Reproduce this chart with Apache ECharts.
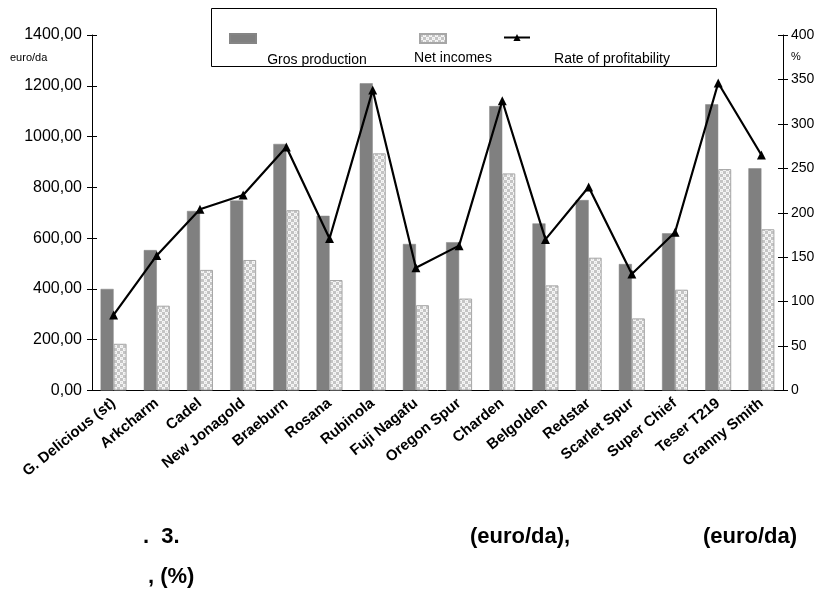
<!DOCTYPE html>
<html>
<head>
<meta charset="utf-8">
<script src="https://cdn.jsdelivr.net/npm/echarts@6/dist/echarts.min.js"></script>
<style>
  html, body { margin: 0; padding: 0; background: #ffffff; }
  #chart { width: 820px; height: 593px; }
</style>
</head>
<body>
<div id="chart"></div>
<script>
// Apple cultivars
const categories = [
  'G. Delicious (st)', 'Arkcharm', 'Cadel', 'New Jonagold', 'Braeburn', 'Rosana',
  'Rubinola', 'Fuji Nagafu', 'Oregon Spur', 'Charden', 'Belgolden', 'Redstar',
  'Scarlet Spur', 'Super Chief', 'Teser T219', 'Granny Smith'
];
// euro/da
const grosProduction = [400, 553, 707, 748, 971, 688, 1210, 577, 584, 1120, 658, 750, 498, 619, 1127, 875];
const netIncomes     = [184, 334, 475, 514, 710, 435, 934, 336, 362, 855, 414, 523, 284, 397, 872, 635];
// %
const profitability  = [85, 152, 204, 220, 274, 171, 338, 138, 163, 326, 170, 229, 131, 178, 346, 265];

const seriesNames = ['Gros production', 'Net incomes', 'Rate of profitability'];
const leftAxisRange = [0, 1400, 200];
const rightAxisRange = [0, 400, 50];

const FONT = '"Liberation Sans", Arial, sans-serif';

// small checkered tile used to fill the net-income bars
function checkerTile() {
  const c = document.createElement('canvas');
  c.width = 6; c.height = 6;
  const g = c.getContext('2d');
  g.fillStyle = '#f4f4f4';
  g.fillRect(0, 0, 6, 6);
  g.fillStyle = '#c4c4c4';
  g.fillRect(0, 0, 3, 3);
  g.fillRect(3, 3, 3, 3);
  g.fillStyle = '#dddddd';
  g.fillRect(1, 4, 1, 1);
  g.fillRect(4, 1, 1, 1);
  return c;
}
const netFill = { image: checkerTile(), repeat: 'repeat' };

const GRID = { left: 92, right: 37, top: 35, bottom: 202.5 };
const axisLineStyle = { color: '#000', width: 1 };

const chart = echarts.init(document.getElementById('chart'), null, { renderer: 'canvas' });

const legendBase = {
  top: 33, itemWidth: 26, itemHeight: 9, selectedMode: false,
  formatter: function () { return ''; }, padding: 0, itemGap: 0
};

chart.setOption({
  animation: false,
  backgroundColor: '#ffffff',
  textStyle: { fontFamily: FONT },
  legend: [
    Object.assign({}, legendBase, { left: 229, data: [{ name: seriesNames[0], icon: 'rect' }] }),
    Object.assign({}, legendBase, { left: 419, data: [{ name: seriesNames[1], icon: 'rect' }] }),
    Object.assign({}, legendBase, { left: 503, top: 33, data: [{ name: seriesNames[2] }] })
  ],
  grid: [
    Object.assign({}, GRID),
    Object.assign({}, GRID)
  ],
  xAxis: [
    {
      type: 'category', gridIndex: 0, data: categories,
      axisLine: { lineStyle: axisLineStyle },
      axisTick: { show: false },
      axisLabel: {
        interval: 0, rotate: 39, margin: 11, color: '#000',
        fontFamily: FONT, fontWeight: 'bold', fontSize: 15
      }
    },
    { type: 'category', gridIndex: 1, data: categories, show: false }
  ],
  yAxis: [
    {
      type: 'value', gridIndex: 0, position: 'left',
      min: leftAxisRange[0], max: leftAxisRange[1], interval: leftAxisRange[2],
      axisLine: { show: true, lineStyle: axisLineStyle },
      axisTick: { show: true, length: 5, lineStyle: axisLineStyle },
      splitLine: { show: false },
      axisLabel: {
        color: '#000', fontSize: 16, margin: 10, fontFamily: FONT,
        formatter: function (v) { return v.toFixed(2).replace('.', ','); }
      }
    },
    {
      type: 'value', gridIndex: 0, position: 'right',
      min: rightAxisRange[0], max: rightAxisRange[1], interval: rightAxisRange[2],
      axisLine: { show: true, lineStyle: axisLineStyle },
      axisTick: { show: true, length: 5, lineStyle: axisLineStyle },
      splitLine: { show: false },
      axisLabel: { color: '#000', fontSize: 14, margin: 8, fontFamily: FONT }
    },
    // inner halves of the cross ticks
    {
      type: 'value', gridIndex: 1, position: 'left',
      min: leftAxisRange[0], max: leftAxisRange[1], interval: leftAxisRange[2],
      axisLine: { show: false },
      axisTick: { show: true, inside: true, length: 5, lineStyle: axisLineStyle },
      axisLabel: { show: false }, splitLine: { show: false }
    },
    {
      type: 'value', gridIndex: 1, position: 'right',
      min: rightAxisRange[0], max: rightAxisRange[1], interval: rightAxisRange[2],
      axisLine: { show: false },
      axisTick: { show: true, inside: true, length: 5, lineStyle: axisLineStyle },
      axisLabel: { show: false }, splitLine: { show: false }
    }
  ],
  series: [
    {
      name: seriesNames[0], type: 'bar', xAxisIndex: 0, yAxisIndex: 0,
      data: grosProduction, barWidth: 13, barGap: '0%',
      itemStyle: { color: '#808080', borderColor: '#858585', borderWidth: 0.5 }
    },
    {
      name: seriesNames[1], type: 'bar', xAxisIndex: 0, yAxisIndex: 0,
      data: netIncomes, barWidth: 13, barGap: '0%',
      itemStyle: { color: netFill, borderColor: '#a6a6a6', borderWidth: 1 }
    },
    {
      name: seriesNames[2], type: 'line', xAxisIndex: 0, yAxisIndex: 1,
      data: profitability, symbol: 'triangle', symbolSize: 9,
      z: 5,
      lineStyle: { color: '#000', width: 2.2 },
      itemStyle: { color: '#000' }
    }
  ],
  graphic: [
    // legend frame
    { type: 'rect', shape: { x: 211.5, y: 8.5, width: 505, height: 58 },
      style: { fill: 'none', stroke: '#000', lineWidth: 1 }, z: 0 },
    { type: 'text', x: 317, y: 60, style: { text: seriesNames[0], fill: '#000', font: '14px ' + FONT, textAlign: 'center', textVerticalAlign: 'middle' } },
    { type: 'text', x: 453, y: 58, style: { text: seriesNames[1], fill: '#000', font: '14px ' + FONT, textAlign: 'center', textVerticalAlign: 'middle' } },
    { type: 'text', x: 612, y: 59, style: { text: seriesNames[2], fill: '#000', font: '14px ' + FONT, textAlign: 'center', textVerticalAlign: 'middle' } },
    // axis units
    { type: 'text', x: 10, y: 58, style: { text: 'euro/da', fill: '#000', font: '11px ' + FONT, textVerticalAlign: 'middle' } },
    { type: 'text', x: 791, y: 57, style: { text: '%', fill: '#000', font: '11px ' + FONT, textVerticalAlign: 'middle' } },
    // figure caption
    { type: 'text', x: 143, y: 537, style: { text: '.  3.', fill: '#000', font: 'bold 22px ' + FONT, textVerticalAlign: 'middle' } },
    { type: 'text', x: 470, y: 537, style: { text: '(euro/da),', fill: '#000', font: 'bold 22px ' + FONT, textVerticalAlign: 'middle' } },
    { type: 'text', x: 703, y: 537, style: { text: '(euro/da)', fill: '#000', font: 'bold 22px ' + FONT, textVerticalAlign: 'middle' } },
    { type: 'text', x: 148, y: 577, style: { text: ', (%)', fill: '#000', font: 'bold 22px ' + FONT, textVerticalAlign: 'middle' } }
  ]
});
</script>
</body>
</html>
